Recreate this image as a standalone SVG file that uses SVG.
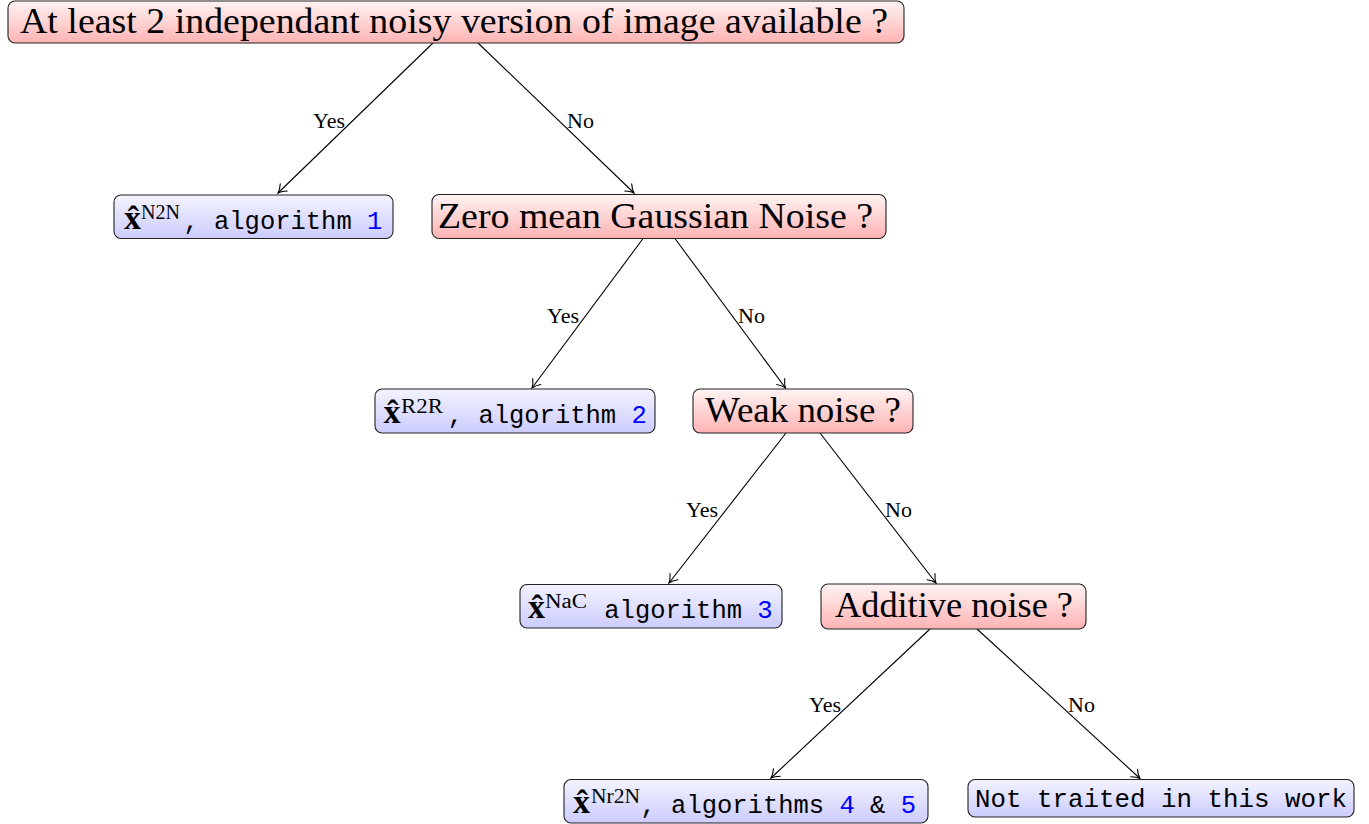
<svg xmlns="http://www.w3.org/2000/svg" width="1369" height="824" viewBox="0 0 1369 824">
<defs>
<linearGradient id="gRed" x1="0" y1="0" x2="0" y2="1">
<stop offset="0" stop-color="#fff3f3"/>
<stop offset="1" stop-color="#ffb3b3"/>
</linearGradient>
<linearGradient id="gBlue" x1="0" y1="0" x2="0" y2="1">
<stop offset="0" stop-color="#f3f3ff"/>
<stop offset="1" stop-color="#ccccff"/>
</linearGradient>
<marker id="arr" markerUnits="userSpaceOnUse" markerWidth="20" markerHeight="20" refX="0" refY="0" viewBox="-10 -10 20 20" orient="auto" overflow="visible">
<path d="M -8,-5 C -5,-2.2 -2,-0.6 0,0 C -2,0.6 -5,2.2 -8,5" fill="none" stroke="#000" stroke-width="1.1" stroke-linecap="round"/>
</marker>
<style>
.q rect{fill:url(#gRed);stroke:#222;stroke-width:1.1}
.l rect{fill:url(#gBlue);stroke:#222;stroke-width:1.1}
.q text{font-family:"Liberation Serif","DejaVu Serif",serif;font-size:35px;fill:#000}
.xb{font-family:"Liberation Serif","DejaVu Serif",serif;font-size:34px;font-weight:bold;fill:#000}
.sup{font-family:"Liberation Serif","DejaVu Serif",serif;font-size:20px;fill:#000}
.tt{font-family:"Liberation Mono","DejaVu Sans Mono",monospace;font-size:25.5px;fill:#000}
.num{fill:#0000ff}
#edges line{stroke:#000;stroke-width:1.1;marker-end:url(#arr)}
#edges text{font-family:"Liberation Serif","DejaVu Serif",serif;font-size:22px;fill:#000}
</style>
</defs>

<g id="edges">
<line x1="433" y1="43" x2="278" y2="193"/>
<line x1="478" y1="43" x2="634" y2="193"/>
<line x1="642.7" y1="239" x2="532" y2="388"/>
<line x1="675.3" y1="239" x2="785.5" y2="388"/>
<line x1="786" y1="433" x2="669" y2="583"/>
<line x1="820" y1="433" x2="936" y2="583"/>
<line x1="930" y1="629" x2="771" y2="778"/>
<line x1="977" y1="629" x2="1140" y2="778.5"/>
<text x="345" y="128" text-anchor="end">Yes</text>
<text x="567" y="128">No</text>
<text x="579" y="323" text-anchor="end">Yes</text>
<text x="738" y="323">No</text>
<text x="718" y="517" text-anchor="end">Yes</text>
<text x="885" y="517">No</text>
<text x="841" y="712" text-anchor="end">Yes</text>
<text x="1068" y="712">No</text>
</g>

<g id="q1" class="q">
<rect x="8" y="1" width="896" height="42" rx="7"/>
<text x="20" y="33" textLength="868" lengthAdjust="spacingAndGlyphs">At least 2 independant noisy version of image available ?</text>
</g>

<g id="leaf-n2n" class="l">
<rect x="114" y="195" width="279" height="43.5" rx="7"/>
<text class="xb" x="132.5" y="229" text-anchor="middle">x&#x302;</text>
<text class="sup" x="141" y="219" textLength="39" lengthAdjust="spacingAndGlyphs">N2N</text>
<text class="tt" x="183.4" y="229" xml:space="preserve">, algorithm <tspan class="num">1</tspan></text>
</g>

<g id="q2" class="q">
<rect x="432" y="194.5" width="454" height="44" rx="7"/>
<text x="438" y="228" textLength="435" lengthAdjust="spacingAndGlyphs">Zero mean Gaussian Noise ?</text>
</g>

<g id="leaf-r2r" class="l">
<rect x="375" y="389" width="280" height="44" rx="7"/>
<text class="xb" x="392" y="423" text-anchor="middle">x&#x302;</text>
<text class="sup" x="401" y="413" textLength="42" lengthAdjust="spacingAndGlyphs">R2R</text>
<text class="tt" x="447.8" y="423" xml:space="preserve">, algorithm <tspan class="num">2</tspan></text>
</g>

<g id="q3" class="q">
<rect x="693" y="389" width="220" height="44" rx="7"/>
<text x="705" y="422" textLength="196" lengthAdjust="spacingAndGlyphs">Weak noise ?</text>
</g>

<g id="leaf-nac" class="l">
<rect x="520" y="584.5" width="262" height="43.5" rx="7"/>
<text class="xb" x="536.5" y="618" text-anchor="middle">x&#x302;</text>
<text class="sup" x="545" y="608" textLength="42" lengthAdjust="spacingAndGlyphs">NaC</text>
<text class="tt" x="589" y="618" xml:space="preserve"> algorithm <tspan class="num">3</tspan></text>
</g>

<g id="q4" class="q">
<rect x="821" y="584" width="265" height="45" rx="7"/>
<text x="835" y="617" textLength="238" lengthAdjust="spacingAndGlyphs">Additive noise ?</text>
</g>

<g id="leaf-nr2n" class="l">
<rect x="564" y="779.5" width="364" height="43.5" rx="7"/>
<text class="xb" x="581.5" y="813" text-anchor="middle">x&#x302;</text>
<text class="sup" x="591" y="803" textLength="49" lengthAdjust="spacingAndGlyphs">Nr2N</text>
<text class="tt" x="640.5" y="813" xml:space="preserve">, algorithms <tspan class="num">4</tspan> &amp; <tspan class="num">5</tspan></text>
</g>

<g id="leaf-not" class="l">
<rect x="968" y="779.5" width="386" height="37.5" rx="7"/>
<text class="tt" x="975" y="807" textLength="372" lengthAdjust="spacingAndGlyphs">Not traited in this work</text>
</g>
</svg>
